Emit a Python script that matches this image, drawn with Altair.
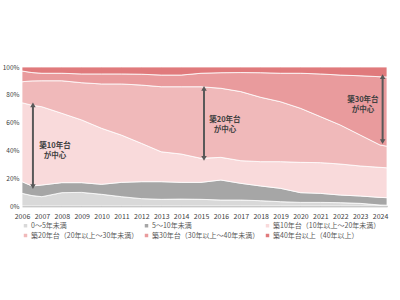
import altair as alt
import pandas as pd

years = [2006.0, 2006.5, 2007, 2008, 2009, 2010, 2011, 2012, 2013, 2014, 2015,
         2016, 2017, 2018, 2019, 2020, 2021, 2022, 2023, 2024, 2024.35]

s_0_5 = [9.1, 7.5, 6.7, 9.6, 9.8, 8.4, 6.7, 5.3, 4.8, 5.0, 4.8,
         4.3, 4.3, 3.8, 3.1, 2.6, 2.6, 2.4, 1.9, 0.7, 0.6]
s_5_10 = [8.4, 6.9, 8.4, 7.2, 7.0, 7.2, 10.3, 12.2, 12.7, 12.0, 12.2,
          14.4, 12.0, 10.6, 9.6, 7.0, 6.5, 5.5, 5.3, 5.5, 5.4]
s_10s = [56.8, 58.1, 56.3, 49.9, 45.1, 40.3, 34.0, 27.6, 21.5, 20.4, 17.3,
         16.3, 16.3, 17.5, 19.2, 21.8, 22.1, 22.3, 21.6, 21.6, 21.5]
s_20s = [15.1, 17.5, 18.7, 23.4, 26.8, 31.9, 36.8, 41.9, 46.8, 48.4, 51.5,
         49.7, 49.7, 46.3, 43.1, 38.9, 33.1, 28.1, 22.3, 16.1, 15.5]
s_30s = [7.7, 6.0, 5.4, 5.4, 6.3, 7.2, 7.2, 7.8, 8.4, 8.4, 9.7,
         11.2, 13.7, 17.7, 20.5, 25.2, 30.7, 35.9, 42.6, 49.1, 49.8]
s_40s = [2.9, 4.0, 4.5, 4.5, 5.0, 5.0, 5.0, 5.2, 5.8, 5.8, 4.5,
         4.1, 4.0, 4.1, 4.5, 4.5, 5.0, 5.8, 6.3, 7.0, 7.2]

categories = ["0～5年未満", "5～10年未満", "築10年台（10年以上～20年未満）",
              "築20年台（20年以上～30年未満）", "築30年台（30年以上～40年未満）",
              "築40年台以上（40年以上）"]
colors = ["#d9d9d9", "#a6a6a6", "#f9dadb", "#f0b9ba", "#e99b9d", "#e07a7c"]
tick_years = list(range(2006, 2025))
y_ticks = [0, 20, 40, 60, 80, 100]

# annotations
ann_x = [2006.55, 2015.15, 2024.13]
ann_top = [72.7, 84.7, 93.0]
ann_bottom = [13.9, 34.3, 46.3]
label_x = [2007.66, 2016.2, 2023.14]
label_y = [43.2, 61.9, 76.3]
label_text = [["築10年台", "が中心"], ["築20年台", "が中心"], ["築30年台", "が中心"]]

series = [s_0_5, s_5_10, s_10s, s_20s, s_30s, s_40s]
rows = []
for i, (cat, vals) in enumerate(zip(categories, series)):
    for y, v in zip(years, vals):
        rows.append({"year": y, "cat": cat, "ord": i, "value": v})
df = pd.DataFrame(rows)

ann = pd.DataFrame({"x": ann_x, "top": ann_top, "bottom": ann_bottom})
lab = pd.DataFrame({"x": label_x, "y": label_y, "t": label_text})

FONT = "Noto Sans CJK JP"
xscale = alt.Scale(domain=[2006, 2024.35], nice=False, zero=False)
yscale = alt.Scale(domain=[0, 100], nice=False)

x_axis = alt.Axis(values=tick_years, format="d", title=None, grid=False,
                  ticks=False, domainColor="#a6a6a6", domainWidth=1.5,
                  labelFontSize=7, labelColor="#404040", labelFont=FONT,
                  labelPadding=6, labelOverlap=False, labelFlush=False)
y_axis = alt.Axis(values=y_ticks, title=None, grid=False,
                  ticks=False, domain=False, labelExpr="datum.value + '%'",
                  labelOverlap=False, labelFlush=False,
                  labelFontSize=6.5, labelColor="#404040", labelFont=FONT,
                  labelPadding=3)

area = alt.Chart(df).mark_area(stroke="white", strokeWidth=0.8, interpolate="linear").encode(
    x=alt.X("year:Q", scale=xscale, axis=x_axis),
    y=alt.Y("value:Q", stack="zero", scale=yscale, axis=y_axis),
    color=alt.Color("cat:N", scale=alt.Scale(domain=categories, range=colors),
                    sort=categories,
                    legend=alt.Legend(title=None, orient="none", legendX=0, legendY=155,
                                      direction="horizontal",
                                      columns=3, columnPadding=4, rowPadding=2,
                                      symbolType="square", symbolSize=12,
                                      symbolStrokeWidth=0, labelFontSize=7,
                                      labelFont=FONT, labelColor="#595959",
                                      labelLimit=300, padding=0, symbolOffset=0,
                                      labelOffset=2)),
    order=alt.Order("ord:Q", sort="ascending"),
)

rule = alt.Chart(ann).mark_rule(color="#595959", strokeWidth=2).encode(
    x=alt.X("x:Q", scale=xscale, axis=x_axis), y=alt.Y("top:Q", scale=yscale, axis=y_axis),
    y2="bottom:Q")
head_top = alt.Chart(ann).mark_point(shape="triangle-up", filled=True, color="#595959",
                                     size=30, opacity=1).encode(
    x=alt.X("x:Q", scale=xscale, axis=x_axis), y=alt.Y("top:Q", scale=yscale, axis=y_axis))
head_bot = alt.Chart(ann).mark_point(shape="triangle-down", filled=True, color="#595959",
                                     size=30, opacity=1).encode(
    x=alt.X("x:Q", scale=xscale, axis=x_axis), y=alt.Y("bottom:Q", scale=yscale, axis=y_axis))
text = alt.Chart(lab).mark_text(font=FONT, fontSize=7.5, fontWeight="bold",
                                color="#404040", lineHeight=10, baseline="middle",
                                align="center").encode(
    x=alt.X("x:Q", scale=xscale, axis=x_axis), y=alt.Y("y:Q", scale=yscale, axis=y_axis),
    text="t")

chart = alt.layer(area, rule, head_top, head_bot, text).properties(
    width=365, height=139,
    autosize=alt.AutoSizeParams(type="none"),
    padding={"left": 22, "top": 67, "right": 13, "bottom": 94},
    background="white",
).configure_view(stroke=None)

chart.save("out.html", embed_options={"renderer": "svg", "actions": False})
